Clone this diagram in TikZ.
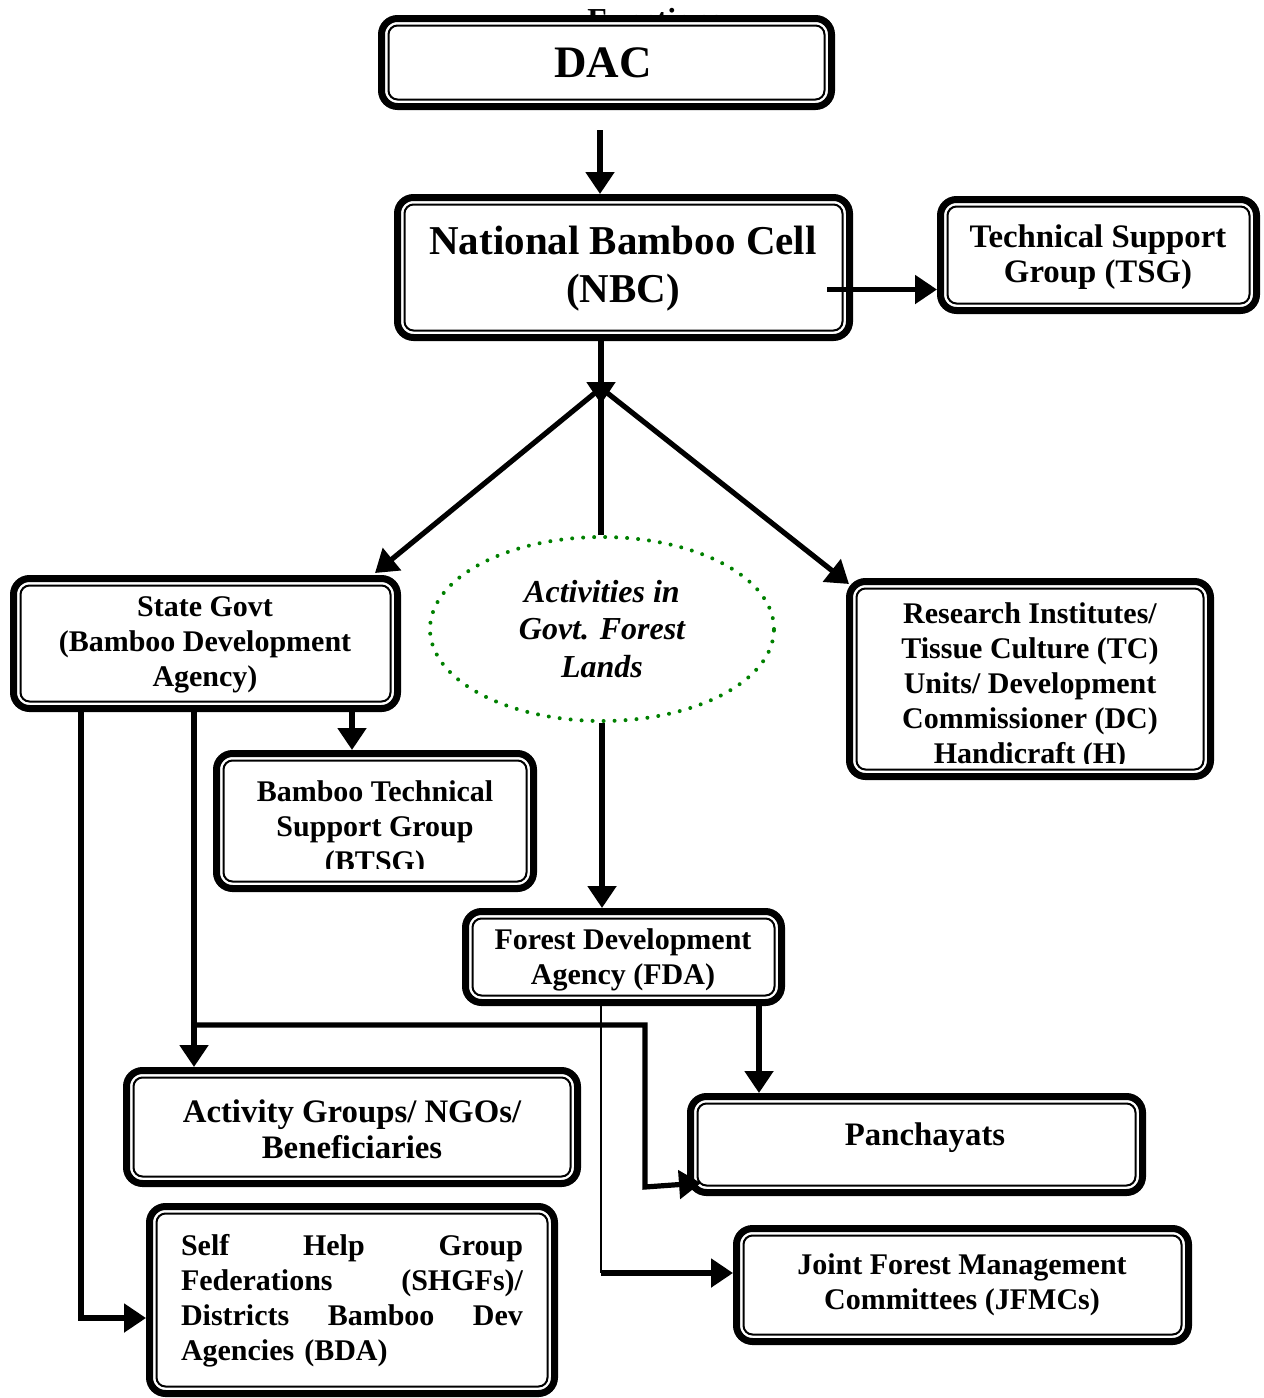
\documentclass[tikz,border=0pt]{standalone}
\usepackage{fontspec}
\setmainfont{Liberation Serif}
\usetikzlibrary{arrows.meta,calc,fit,shapes.geometric}
\definecolor{dotgreen}{RGB}{0,128,0}
\tikzset{
  obox/.style={draw, line width=3.5pt, rounded corners=8pt, fill=white, inner sep=0pt},
  ibox/.style={line width=1pt, rounded corners=4.5pt},
  txt/.style={font=\fontsize{15pt}{17.5pt}\selectfont\bfseries, align=center, inner sep=0pt},
  bigtxt/.style={txt, font=\fontsize{16.4pt}{17.8pt}\selectfont\bfseries},
  conn/.style={line width=2.6pt},
  thinconn/.style={line width=1pt},
  arr/.style={-{Triangle[length=11pt,width=14pt]}},
}
\newcommand\mkbox[5]{%
  \node[obox, fit={(#2+3.5,#3+3.5) (#4-3.5,#5-3.5)}] (#1) {};
  \draw[ibox] ($(#1.north west)+(10.5,10.5)$) rectangle ($(#1.south east)+(-10.5,-10.5)$);}
\begin{document}
\begin{tikzpicture}[x=0.5pt,y=-0.5pt]
\useasboundingbox (0,0) rectangle (1264,1398);
% text partly hidden behind the DAC box
\node[txt, font=\fontsize{16pt}{18pt}\selectfont\bfseries, anchor=base west] (fn) at (587,30) {Functions};
% boxes
\mkbox{dac}{378}{15}{835}{110}
\mkbox{nbc}{394}{194}{853}{341}
\mkbox{tsg}{937}{196}{1260}{314}
\mkbox{state}{10}{575}{401}{712}
\mkbox{btsg}{213}{750}{537}{892}
\mkbox{res}{846}{578}{1214}{780}
\mkbox{fda}{462}{908}{785}{1006}
\mkbox{act}{123}{1067}{581}{1187}
\mkbox{pan}{687}{1093}{1146}{1196}
\mkbox{jfmc}{733}{1225}{1192}{1345}
\mkbox{shg}{146}{1203}{558}{1397}
% ellipse
\node[ellipse, draw=dotgreen, line width=2pt, dash pattern=on 0pt off 5.5pt, line cap=round,
  minimum width=172pt, minimum height=92pt, inner sep=0pt,
  font=\fontsize{16pt}{18.7pt}\selectfont\bfseries\itshape, align=center] (ell) at (602,629)
  {Activities in\\Govt. Forest\\Lands};
% texts
\node[txt, font=\fontsize{22.5pt}{27pt}\selectfont\bfseries] (dact) at (603,63) {DAC};
\node[txt, font=\fontsize{20.5pt}{24pt}\selectfont\bfseries] (nbct) at (623,269) {National Bamboo Cell\\(NBC)};
\node[bigtxt] (tsgt) at (1098,257) {Technical Support\\Group (TSG)};
\node[txt] (statet) at (205,645) {State Govt\\(Bamboo Development\\Agency)};
\begin{scope}
  \clip (217,760) rectangle (533,868);
  \node[txt] (btsgt) at (375,829) {Bamboo Technical\\Support Group\\(BTSG)};
\end{scope}
\begin{scope}
  \clip (850,590) rectangle (1210,763);
  \node[txt] (rest) at (1030,686) {Research Institutes/\\Tissue Culture (TC)\\Units/ Development\\Commissioner (DC)\\Handicraft (H)};
\end{scope}
\node[txt] (fdat) at (623,960) {Forest Development\\Agency (FDA)};
\node[bigtxt] (actt) at (352,1129) {Activity Groups/ NGOs/\\Beneficiaries};
\node[bigtxt] (pant) at (925,1138) {Panchayats};
\node[txt] (jfmct) at (962,1285) {Joint Forest Management\\Committees (JFMCs)};
\node[txt, align=left, text width=171pt] (shgt) at (352,1301)
  {Self\hfill Help\hfill Group\\Federations\hfill (SHGFs)/\\Districts\hfill Bamboo\hfill Dev\\Agencies (BDA)};
% connectors
\coordinate (dacs) at ($(dac.south)+(-6.5,20)$);
\draw[conn,arr] (dacs) -- (dacs |- nbc.north);
\coordinate (tsgs) at ($(nbc.east)+(-26,22)$);
\draw[conn,arr] (tsgs) -- (tsgs -| tsg.west);
\coordinate (jtip) at (601,404);
\coordinate (j) at (601,388);
\draw[conn,arr] (nbc.south -| jtip) -- (jtip);
\draw[conn,arr] (j) -- ($(state.north east)+(-26,-2)$);
\draw[conn,arr] (j) -- ($(res.north west)+(3,6)$);
\draw[conn] (j) -- (j |- ell.north);
\draw[conn,arr] (ell.south) -- (ell.south |- fda.north);
\coordinate (sa) at ($(state.south west)+(71,0)$);
\coordinate (sb) at ($(state.south west)+(184,0)$);
\coordinate (sc) at ($(state.south west)+(342,0)$);
\draw[conn,arr] (sa) |- ($(shg.west)+(0,18)$);
\draw[conn,arr] (sb) -- (sb |- act.north);
\draw[conn,arr] (sc) -- (sc |- btsg.north);
\draw[conn,arr] ($(sb)+(0,313)$) -- ($(fda.south west)+(183,19)$) -- ($(pan.south west)+(-42,-9)$) -- ($(pan.south west)+(14,-13)$);
\coordinate (fj) at ($(fda.south west)+(139,267)$);
\draw[thinconn] (fda.south -| fj) -- (fj);
\draw[conn,arr] (fj) -- (fj -| jfmc.west);
\coordinate (fp) at ($(fda.south east)+(-26,0)$);
\draw[conn,arr] (fp) -- (fp |- pan.north);
\end{tikzpicture}
\end{document}
